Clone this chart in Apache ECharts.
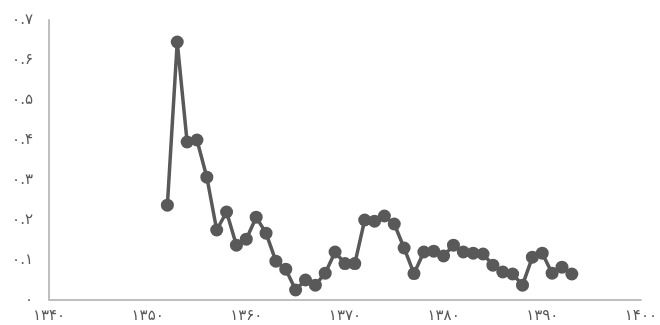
<!DOCTYPE html>
<html>
<head>
<meta charset="utf-8">
<script src="https://cdn.jsdelivr.net/npm/echarts@6/dist/echarts.min.js"></script>
<style>
  html, body { margin: 0; padding: 0; background: #fff; }
  #chart { width: 660px; height: 325px; }
</style>
</head>
<body>
<div id="chart"></div>
<script>
const years = [1352, 1353, 1354, 1355, 1356, 1357, 1358, 1359, 1360, 1361, 1362, 1363, 1364, 1365,
  1366, 1367, 1368, 1369, 1370, 1371, 1372, 1373, 1374, 1375, 1376, 1377, 1378, 1379, 1380,
  1381, 1382, 1383, 1384, 1385, 1386, 1387, 1388, 1389, 1390, 1391, 1392, 1393];
const values = [0.237, 0.645, 0.395, 0.4, 0.307, 0.175, 0.22, 0.137, 0.152, 0.207, 0.167, 0.097, 0.077, 0.025,
  0.05, 0.037, 0.067, 0.12, 0.091, 0.091, 0.2, 0.197, 0.21, 0.19, 0.13, 0.066, 0.12, 0.122, 0.11,
  0.137, 0.12, 0.117, 0.115, 0.087, 0.07, 0.065, 0.037, 0.107, 0.117, 0.067, 0.082, 0.065];
const xTicks = [1340, 1350, 1360, 1370, 1380, 1390, 1400];
const yTicks = [0, 0.1, 0.2, 0.3, 0.4, 0.5, 0.6, 0.7];

const faDigits = "۰۱۲۳۴۵۶۷۸۹";
const toFa = s => String(s).replace(/[0-9]/g, d => faDigits[+d]);

const chart = echarts.init(document.getElementById("chart"));

const option = {
  animation: false,
  grid: { left: 49, right: 18, top: 20, bottom: 25 },
  xAxis: {
    type: "value",
    min: xTicks[0],
    max: xTicks[xTicks.length - 1],
    interval: 10,
    axisLine: { lineStyle: { color: "#bfbfbf", width: 2 } },
    axisTick: { show: false },
    splitLine: { show: false },
    axisLabel: {
      color: "#595959",
      fontFamily: "DejaVu Sans",
      fontSize: 15,
      margin: 9,
      formatter: v => toFa(v)
    }
  },
  yAxis: {
    type: "value",
    min: yTicks[0],
    max: yTicks[yTicks.length - 1],
    interval: 0.1,
    axisLine: { show: true, lineStyle: { color: "#bfbfbf", width: 2 } },
    axisTick: { show: false },
    splitLine: { show: false },
    axisLabel: {
      color: "#595959",
      fontFamily: "DejaVu Sans",
      fontSize: 15,
      margin: 16,
      formatter: v => v === 0 ? toFa(0) : toFa(v.toFixed(1))
    }
  },
  series: [
    {
      type: "line",
      data: years.map((y, i) => [y, values[i]]),
      symbol: "circle",
      symbolSize: 13,
      itemStyle: { color: "#595959" },
      lineStyle: { color: "#595959", width: 3.5 }
    }
  ]
};

chart.setOption(option);
</script>
</body>
</html>
